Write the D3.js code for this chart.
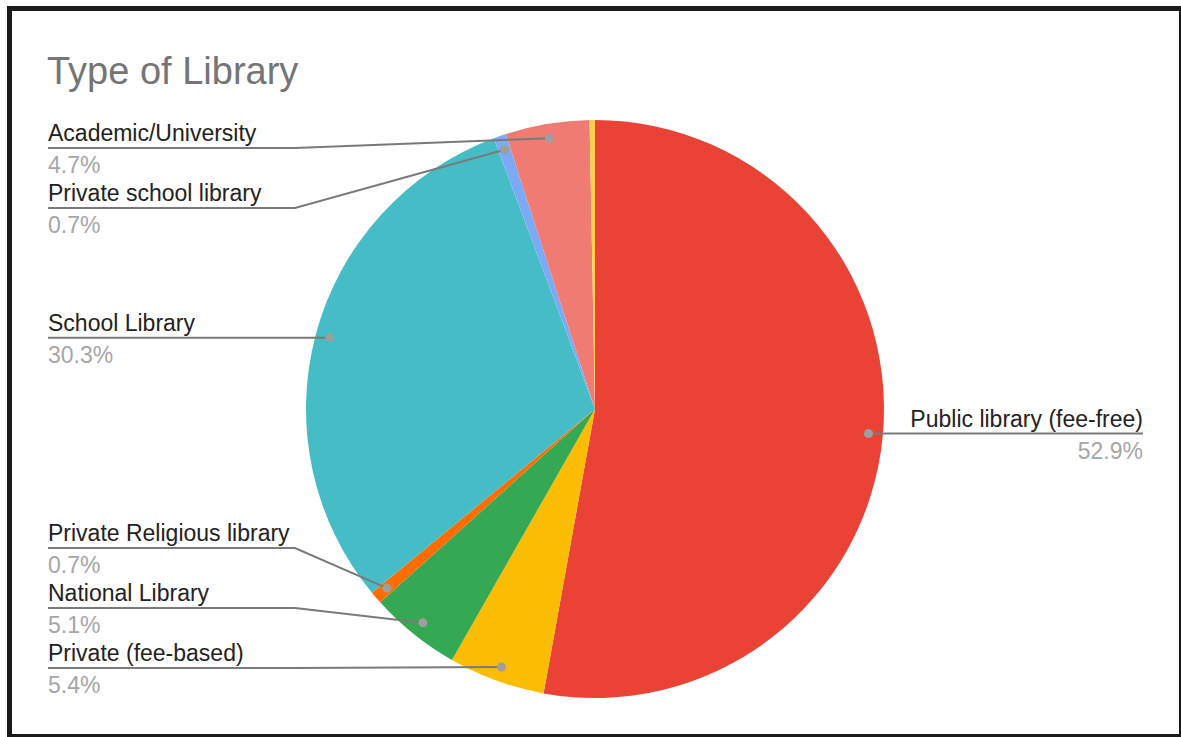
<!DOCTYPE html>
<html>
<head>
<meta charset="utf-8">
<script src="https://cdn.jsdelivr.net/npm/d3@7"></script>
<style>
  body { margin: 0; background: #fff; }
  svg { display: block; font-family: "Liberation Sans", Arial, sans-serif; }
</style>
</head>
<body>
<svg id="chart" width="1181" height="737"></svg>
<script>
// ---------------- data ----------------
const categories = ["Public library (fee-free)", "Private (fee-based)", "National Library",
  "Private Religious library", "School Library", "Private school library",
  "Academic/University", ""];
const shares = [52.9, 5.4, 5.1, 0.7, 30.3, 0.7, 4.7, 0.3];
const sliceColors = ["#ea4335", "#fbbc04", "#34a853", "#ff6d01", "#46bdc6", "#7baaf7", "#f07b72", "#fcd04f"];

const width = 1181, height = 737;
const cx = 595, cy = 409, radius = 289;
const labelTop = 148, labelBottom = 668, labelGap = 60;

var svg = d3.select("#chart");

// frame
svg.append("rect")
  .attr("x", 9.5).attr("y", 8.5)
  .attr("width", 1172).attr("height", 728)
  .attr("fill", "#fff")
  .attr("stroke", "#1a1a1a")
  .attr("stroke-width", 5);

svg.append("text")
  .attr("x", 47).attr("y", 84)
  .attr("font-size", 38)
  .attr("fill", "#757575")
  .text("Type of Library");

var data = categories.map(function(c, i) { return {name: c, value: shares[i], color: sliceColors[i]}; });

var pie = d3.pie().sort(null).value(function(d) { return d.value; });
var arcs = pie(data);
var arc = d3.arc().innerRadius(0).outerRadius(radius);

var g = svg.append("g").attr("transform", "translate(" + cx + "," + cy + ")");

g.selectAll(".slice")
  .data(arcs)
.enter().append("path")
  .attr("class", "slice")
  .attr("d", arc)
  .attr("fill", function(d) { return d.data.color; });

// ---------------- labels ----------------
var fmt = d3.format(".1%");
var labelled = arcs.filter(function(d) { return d.data.name !== ""; });
labelled.forEach(function(d) {
  var a = (d.startAngle + d.endAngle) / 2;
  d.dx = cx + radius * 0.95 * Math.sin(a);
  d.dy = cy - radius * 0.95 * Math.cos(a);
  d.side = d.dx < cx ? "left" : "right";
  d.ly = d.dy;
});

function layout(list) {
  list.sort(function(a, b) { return a.dy - b.dy; });
  list.forEach(function(d, i) {
    d.ly = Math.max(d.ly, labelTop);
    if (i > 0) d.ly = Math.max(d.ly, list[i - 1].ly + labelGap);
  });
  for (var i = list.length - 1; i >= 0; i--) {
    list[i].ly = Math.min(list[i].ly, labelBottom);
    if (i < list.length - 1) list[i].ly = Math.min(list[i].ly, list[i + 1].ly - labelGap);
  }
}
layout(labelled.filter(function(d) { return d.side === "left"; }));
layout(labelled.filter(function(d) { return d.side === "right"; }));

var lab = svg.selectAll(".lab")
  .data(labelled)
.enter().append("g")
  .attr("class", "lab");

lab.append("polyline")
  .attr("points", function(d) {
    var textX = d.side === "left" ? 48 : 1143;
    var elbowX = d.side === "left" ? cx - 300 : cx + 300;
    if ((d.side === "left" && d.dx < elbowX) || (d.side === "right" && d.dx > elbowX)) elbowX = d.dx;
    return [[textX, d.ly], [elbowX, d.ly], [d.dx, d.dy]].join(" ");
  })
  .attr("fill", "none")
  .attr("stroke", "#7a7a7a")
  .attr("stroke-width", 2);

lab.append("circle")
  .attr("cx", function(d) { return d.dx; })
  .attr("cy", function(d) { return d.dy; })
  .attr("r", 4.5)
  .attr("fill", "#9e9e9e");

lab.append("text")
  .attr("x", function(d) { return d.side === "left" ? 48 : 1143; })
  .attr("y", function(d) { return d.ly - 7; })
  .attr("text-anchor", function(d) { return d.side === "left" ? "start" : "end"; })
  .attr("font-size", 23)
  .attr("fill", "#222")
  .text(function(d) { return d.data.name; });

lab.append("text")
  .attr("x", function(d) { return d.side === "left" ? 48 : 1143; })
  .attr("y", function(d) { return d.ly + 25; })
  .attr("text-anchor", function(d) { return d.side === "left" ? "start" : "end"; })
  .attr("font-size", 23)
  .attr("fill", "#a6a6a6")
  .text(function(d) { return fmt(d.data.value / 100); });
</script>
</body>
</html>
